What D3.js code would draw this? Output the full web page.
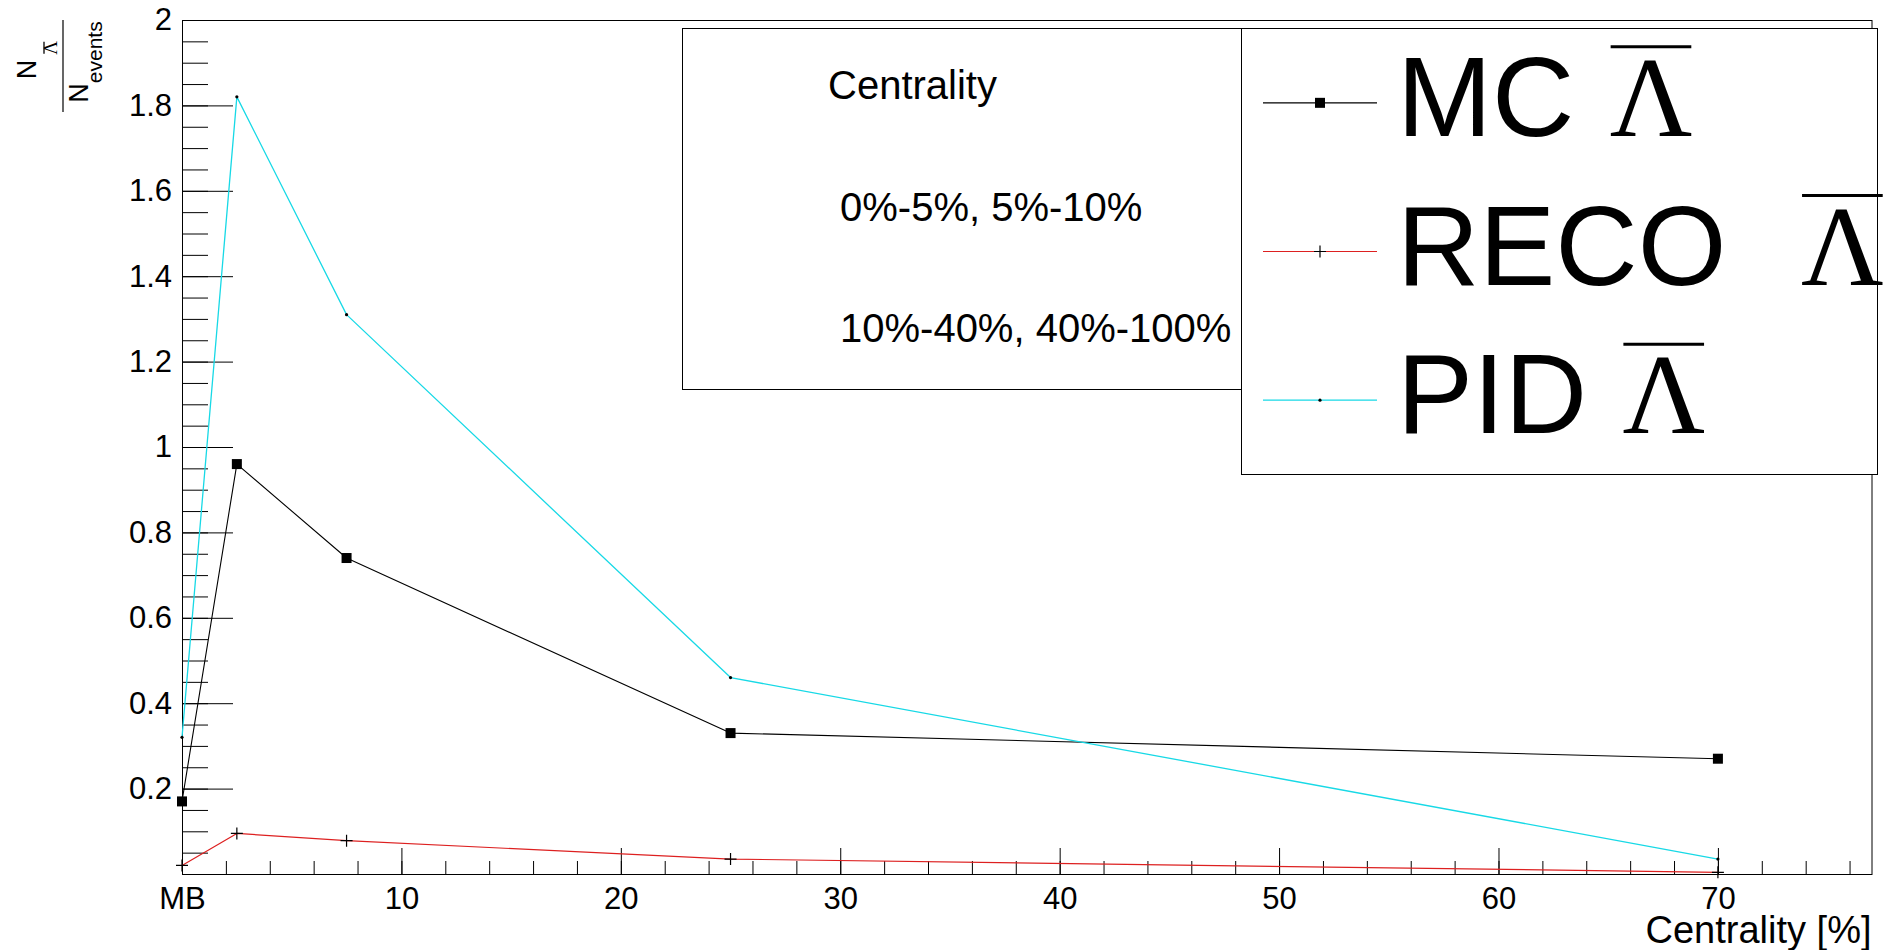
<!DOCTYPE html>
<html>
<head>
<meta charset="utf-8">
<script src="https://cdn.jsdelivr.net/npm/d3@7"></script>
<style>
  body { margin: 0; background: #fff; }
  svg { display: block; }
</style>
</head>
<body>
<svg id="chart" width="1883" height="950"></svg>
<script>
// ---- data -------------------------------------------------------------
// centrality bins: MB (minimum bias) drawn at 0, then bin centres in %
const centrality     = [0, 2.5, 7.5, 25, 70];
const mcLambdaBar    = [0.17, 0.96, 0.74, 0.33, 0.27];
const recoLambdaBar  = [0.02, 0.095, 0.078, 0.035, 0.004];
const pidLambdaBar   = [0.32, 1.82, 1.31, 0.46, 0.035];

const xTickValues = [0, 10, 20, 30, 40, 50, 60, 70];
const xTickLabels = ["MB", "10", "20", "30", "40", "50", "60", "70"];
const yTickValues = [0.2, 0.4, 0.6, 0.8, 1, 1.2, 1.4, 1.6, 1.8, 2];
const yTickLabels = ["0.2", "0.4", "0.6", "0.8", "1", "1.2", "1.4", "1.6", "1.8", "2"];

const centralityLines = ["Centrality", "0%-5%, 5%-10%", "10%-40%, 40%-100%"];
const legendNames = ["MC", "RECO", "PID"];
const xTitle = "Centrality [%]";

// ---- layout / style ----------------------------------------------------
const W = 1883, H = 950;
const M = { left: 182, right: 1871.5, top: 20, bottom: 874 };
const SANS = "'Liberation Sans', Arial, Helvetica, sans-serif";
const SERIF = "'Liberation Serif', 'Times New Roman', Times, serif";
const seriesStyle = [
  { color: "#000000", width: 1.1, marker: "square" },
  { color: "#dd2020", width: 1.2, marker: "plus" },
  { color: "#17d9e6", width: 1.3, marker: "dot" }
];
const seriesValues = [mcLambdaBar, recoLambdaBar, pidLambdaBar];
const lambdaGapEm = [0.31, 0.655, 0.31];

const svg = d3.select("#chart");
svg.append("rect").attr("width", W).attr("height", H).attr("fill", "#fff");

const x = d3.scaleLinear().domain([0, 77]).range([M.left, M.right]);
const y = d3.scaleLinear().domain([0, 2]).range([M.bottom, M.top]);

// ---- frame -------------------------------------------------------------
svg.append("rect")
  .attr("x", M.left + 0.5).attr("y", M.top + 0.5)
  .attr("width", M.right - M.left).attr("height", M.bottom - M.top)
  .attr("fill", "none").attr("stroke", "#000").attr("stroke-width", 1);

// ---- axes (ticks point into the frame) ---------------------------------
function styleAxis(g, fontSize) {
  g.select(".domain").remove();
  g.selectAll(".tick line").attr("stroke", "#000").attr("stroke-width", 1);
  g.selectAll("text").attr("font-family", SANS).attr("font-size", fontSize).attr("fill", "#000");
}

const xMinor = d3.range(0, 77.001, 2);
svg.append("g").attr("transform", `translate(0,${M.bottom})`)
  .call(d3.axisBottom(x).tickValues(xMinor).tickFormat("").tickSizeInner(-13).tickSizeOuter(0))
  .call(g => styleAxis(g, 31));
svg.append("g").attr("transform", `translate(0,${M.bottom})`)
  .call(d3.axisBottom(x).tickValues(xTickValues).tickFormat((d, i) => xTickLabels[i])
    .tickSizeInner(-26).tickSizeOuter(0).tickPadding(13))
  .call(g => styleAxis(g, 31));

const yMinor = d3.range(0, 2.0001, 0.05);
svg.append("g").attr("transform", `translate(${M.left},0)`)
  .call(d3.axisLeft(y).tickValues(yMinor).tickFormat("").tickSizeInner(-26).tickSizeOuter(0))
  .call(g => styleAxis(g, 31));
svg.append("g").attr("transform", `translate(${M.left},0)`)
  .call(d3.axisLeft(y).tickValues(yTickValues).tickFormat((d, i) => yTickLabels[i])
    .tickSizeInner(-51).tickSizeOuter(0).tickPadding(10))
  .call(g => styleAxis(g, 31));

// x-axis title
svg.append("text")
  .attr("x", M.right).attr("y", 943)
  .attr("text-anchor", "end")
  .attr("font-family", SANS).attr("font-size", 38)
  .text(xTitle);

// draws a bar over one character of a text element
function overline(parent, textEl, charIndex, yPos, thick, inset) {
  const ext = textEl.node().getExtentOfChar(charIndex);
  parent.append("line")
    .attr("x1", ext.x + inset).attr("x2", ext.x + ext.width - inset)
    .attr("y1", yPos).attr("y2", yPos)
    .attr("stroke", "#000").attr("stroke-width", thick);
}

// y-axis title: N(anti-Lambda) / N(events), rotated
const yt = svg.append("g").attr("transform", "translate(63,66) rotate(-90)").attr("font-family", SANS);
yt.append("line").attr("x1", -46).attr("x2", 46).attr("y1", 0).attr("y2", 0)
  .attr("stroke", "#000").attr("stroke-width", 1.2);
const num = yt.append("text").attr("x", 6).attr("y", -27).attr("text-anchor", "middle").attr("font-size", 27);
num.append("tspan").text("N");
num.append("tspan").attr("font-family", SERIF).attr("font-size", 19).attr("dx", 5).attr("dy", 21).text("Λ");
overline(yt, num, 1, -19, 1.3, 1);
const den = yt.append("text").attr("x", 4).attr("y", 25).attr("text-anchor", "middle").attr("font-size", 27);
den.append("tspan").text("N");
den.append("tspan").attr("font-size", 21).attr("dy", 14).text("events");

// ---- series ------------------------------------------------------------
const line = d3.line();
seriesValues.forEach((vals, s) => {
  const st = seriesStyle[s];
  const pts = centrality.map((c, i) => [x(c), y(vals[i])]);
  svg.append("path")
    .attr("d", line(pts))
    .attr("fill", "none").attr("stroke", st.color)
    .attr("stroke-width", st.width).attr("stroke-linejoin", "round");
  drawMarkers(svg, pts, st.marker);
});

function drawMarkers(g, pts, kind) {
  pts.forEach(([px, py]) => drawMarker(g, px, py, kind));
}
function drawMarker(g, px, py, kind) {
  if (kind === "square") {
    g.append("rect").attr("x", px - 5).attr("y", py - 5).attr("width", 10).attr("height", 10).attr("fill", "#000");
  } else if (kind === "plus") {
    g.append("path").attr("d", `M${px - 6},${py}H${px + 6}M${px},${py - 6}V${py + 6}`)
      .attr("stroke", "#000").attr("stroke-width", 1.2).attr("fill", "none");
  } else {
    g.append("circle").attr("cx", px).attr("cy", py).attr("r", 1.6).attr("fill", "#000");
  }
}

// ---- centrality text box ----------------------------------------------
const pave = svg.append("g");
pave.append("rect").attr("x", 682.5).attr("y", 28.5).attr("width", 620).attr("height", 361)
  .attr("fill", "#fff").attr("stroke", "#000").attr("stroke-width", 1);
const paveX = [828, 840, 840];
const paveY = [99, 221, 342];
centralityLines.forEach((t, i) => {
  pave.append("text").attr("x", paveX[i]).attr("y", paveY[i])
    .attr("font-family", SANS).attr("font-size", 40).text(t);
});

// ---- legend ------------------------------------------------------------
const leg = svg.append("g");
leg.append("rect").attr("x", 1241.5).attr("y", 28.5).attr("width", 636).attr("height", 446)
  .attr("fill", "#fff").attr("stroke", "#000").attr("stroke-width", 1);
const rowH = 446 / 3;
legendNames.forEach((name, i) => {
  const cy = 28.5 + rowH * (i + 0.5);
  const st = seriesStyle[i];
  leg.append("line").attr("x1", 1263).attr("x2", 1377).attr("y1", cy).attr("y2", cy)
    .attr("stroke", st.color).attr("stroke-width", st.width);
  drawMarker(leg, 1320, cy, st.marker);
  const base = cy + 33;
  const t = leg.append("text").attr("x", 1397).attr("y", base)
    .attr("font-family", SANS).attr("font-size", 114);
  t.append("tspan").text(name);
  t.append("tspan").attr("font-family", SERIF).attr("dx", lambdaGapEm[i] + "em").text("Λ");
  overline(leg, t, name.length, base - 89, 3, 1);
});
</script>
</body>
</html>
